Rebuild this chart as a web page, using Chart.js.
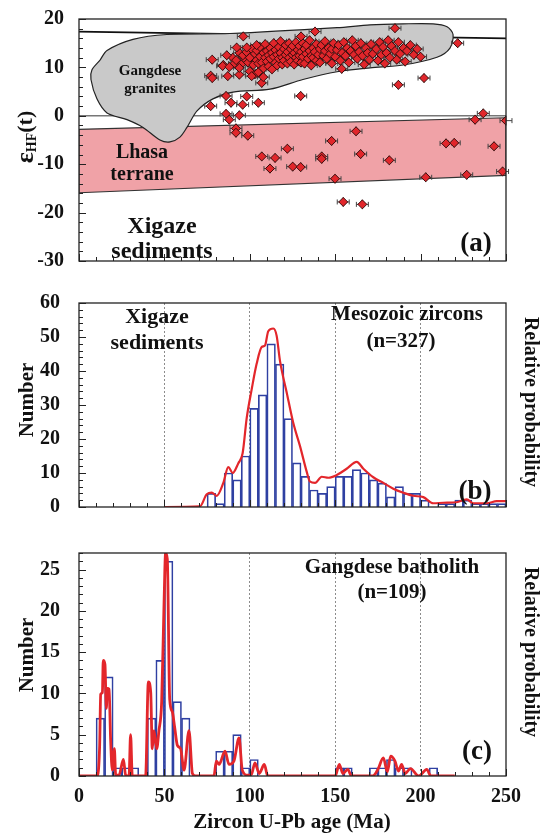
<!DOCTYPE html>
<html lang="en">
<head>
<meta charset="UTF-8">
<title>Zircon Hf isotopes and U-Pb ages</title>
<script src="https://cdn.jsdelivr.net/npm/chart.js@4.4.0/dist/chart.umd.min.js"></script>
<style>
  body { margin: 0; width: 548px; height: 834px; background: #fff; position: relative; overflow: hidden; }
  canvas { position: absolute; left: 0; }
</style>
</head>
<body>
<canvas id="chartA" width="548" height="280" style="top:0"></canvas>
<canvas id="chartB" width="548" height="250" style="top:280px"></canvas>
<canvas id="chartC" width="548" height="304" style="top:530px"></canvas>

<script>
// ---- panel (a): eHf(t) vs age ----
const gangdeseField = [[12.3,11.5],[7.6,9.5],[7.0,7.5],[10.5,3.5],[16.4,0.6],[28.1,-0.8],[37.5,-2.4],[47.4,-5.0],
  [53.3,-5.4],[59.1,-4.4],[63.2,-2.4],[69.1,1.0],[78.4,3.5],[90.2,4.9],[111.8,5.5],[131.1,7.5],[151.1,9.1],
  [170.4,9.9],[189.7,10.5],[209.6,12.1],[217.2,14.0],[219.0,16.8],[215.5,18.4],[207.3,19.0],[189.7,19.0],
  [170.4,18.8],[151.1,18.2],[88.4,17.0],[51.5,16.8],[31.6,15.8],[16.4,13.5],[12.3,11.5]];
const lhasaField = [[0,-2.8],[250,-0.4],[250,-12.3],[0,-15.9],[0,-2.8]];
const mantleLine = [[0,17.4],[250,16.0]];
const churLine = [[0,0],[250,0]];

const clusterPts = [
  [90,12.0],[91,10.8],[92,11.5],[94,13.0],[95,10.6],[97,11.8],[100,9.2],[103,8.6],[105,9.0],
  [96,12.5],[98,13.2],[99,11.0],[100,12.0],[101,13.8],[102,10.5],[103,12.8],[104,11.5],[104,13.5],[105,10.8],
  [106,12.2],[106,14.2],[107,11.0],[108,13.0],[108,9.8],[109,12.0],[109,14.8],[110,11.2],[110,13.4],[111,12.5],
  [111,10.2],[112,14.0],[112,11.8],[113,13.0],[113,9.6],[114,12.2],[114,15.0],[115,11.0],[115,13.6],[116,12.6],
  [116,10.4],[117,14.2],[117,11.8],[118,13.0],[118,15.4],[119,12.0],[119,10.6],[120,13.8],[120,11.4],[121,12.6],
  [121,14.6],[122,10.8],[122,13.2],[123,12.0],[123,15.0],[124,11.2],[124,13.8],[125,12.6],[125,14.4],[126,10.6],
  [126,13.0],[127,12.0],[127,15.2],[128,13.6],[128,11.4],[129,12.4],[129,14.4],[130,11.0],[130,13.2],[131,12.2],
  [131,15.0],[132,13.8],[132,10.8],[133,12.8],[133,14.6],[134,11.8],[135,13.4],[135,15.6],[136,12.4],[136,10.4],
  [137,14.0],[137,12.0],[138,13.2],[139,11.4],[139,14.8],[140,12.6],[141,13.8],[141,11.0],[142,14.6],[143,12.4],
  [144,13.4],[144,15.4],[145,11.8],[146,14.0],[147,12.8],[148,13.8],[148,10.8],[149,15.0],[150,12.2],[151,13.6],
  [152,14.6],[153,11.4],[154,13.0],[155,15.2],[156,12.4],[157,14.0],[158,11.0],[159,13.4],[160,15.6],[161,12.6],
  [162,14.4],[163,11.8],[164,13.2],[165,15.0],[166,12.4],[167,10.6],[168,14.0],[169,13.0],[170,11.6],[171,14.8],
  [172,12.8],[174,13.8],[175,11.4],[176,15.2],[177,12.6],[178,14.2],[179,10.8],[180,13.0],[181,15.6],[182,12.0],
  [183,14.4],[185,13.4],[186,11.6],[187,15.2],[188,12.8],[190,14.0],[191,11.2],[192,13.4],[194,14.6],[196,12.6],
  [198,13.8],[200,12.2]];
const outlierPts = [
  [78.0,11.6],[77.1,8.3],[78.0,7.8],[84.5,10.5],[86.5,12.5],[87.1,8.2],[92.3,14.1],[96.2,16.4],[93.9,8.5],
  [84.1,10.3],[88.0,10.1],[93.9,9.9],[77.1,2.0],[86.1,4.1],[89.0,2.7],[98.2,4.0],[95.8,2.3],[105.0,2.7],
  [86.1,0.4],[88.0,-0.8],[93.9,0.1],[91.9,-2.6],[91.9,-3.5],[98.8,-4.1],[107.0,6.8],[107.9,8.0],[101.1,8.2],
  [129.8,4.1],[107.0,-8.4],[114.8,-8.7],[111.8,-10.9],[122.0,-6.8],[125.1,-10.5],[129.8,-10.6],[142.1,-8.4],
  [142.1,-8.9],[147.9,-5.2],[162.2,-3.2],[164.9,-7.9],[149.9,-13.0],[181.7,-9.2],[154.7,-17.8],[165.9,-18.3],
  [203.0,-12.7],[214.9,-5.7],[219.7,-5.6],[227.0,-12.2],[231.9,-0.8],[236.7,0.5],[250.0,-1.0],[243.0,-6.3],
  [248.0,-11.5],[185.0,18.1],[221.7,15.0],[202.0,7.8],[187.0,6.4],[153.8,9.7],[138.2,17.4],[130.0,16.4],
  [98.2,14.1],[104.0,14.6]];
const ageErr = 3.5, epsErr = 1.0;

// ---- panel (b): Xigaze sediments, Mesozoic zircons ----
const binsB = [75,80,85,90,95,100,105,110,115,120,125,130,135,140,145,150,155,160,165,170,
  175,180,185,190,195,200,205,210,215,220,225,230,235,240,245];
const countsB = [4,1,10,8,15,29,33,48,42,26,13,9,5,4,6,9,9,11,10,8,7,3,6,4,4,2,0,1,1,2,2,1,1,1,1];
const kdeAgeB = [50,70.8,74.8,77.7,80.6,84.5,87.4,90,93.3,95.8,98.2,101.1,104,107,108.9,110.8,113.8,115.7,
  117.7,121.6,125.5,129.4,133.3,135.2,138.2,142.1,146,150.9,156.7,162.6,166.5,172.3,178.2,184,189.9,195.7,
  201.6,207.4,213.3,221.1,227,230.9,238.7,244.6,250];
const kdeValB = [0,0.2,3.75,4.2,3.3,7.1,11.7,10,12.9,15.8,26.2,34.6,42.1,47.1,47.5,51.7,52.5,50.4,
  42.9,33.7,24.6,17.9,10.4,7.5,7.1,8.9,8.6,9.4,11.25,13.3,11.25,8.75,7.1,5.4,4.2,3.3,
  2.9,1.1,1.25,1.4,2.25,1.1,1.1,1.7,1.7];

// ---- panel (c): Gangdese batholith ----
const binsC = [10,15,20,25,30,40,45,50,55,60,80,85,90,95,100,150,155,170,175,180,185,190,205];
const countsC = [7,12,1,1,1,7,14,26,9,7,3,3,5,1,2,1,1,1,1,2,1,1,1];
const kdeAgeC = [0,10.7,12.1,12.7,13.7,14.2,15.2,16.0,16.6,17.6,18.5,19.5,20.7,21.5,23.4,26,27.3,29.3,30.2,31.2,
  39,40.6,42,42.9,43.9,45.5,46.8,48.4,49.8,50.7,51.7,53.1,54.6,56,57.6,59.5,61.5,64.4,66.4,68.3,
  79,80.4,82,85.5,87.8,90.7,93.7,95.6,98.6,101,103,105.5,108.5,110.5,
  150,152.4,154.5,157.4,159.5,172,175,178.2,180.5,182.5,185,187,188.9,191,194,199,203.6,206,220];
const kdeValC = [0,0,3.7,9.9,10.1,14.0,13.5,8.2,10.6,10.5,4.5,0.7,3.3,0.1,0.1,2.0,0.1,0,5.0,0,
  0,11.4,10.1,3.3,5.5,3.3,5.5,9.0,21.0,27.0,26.3,9.3,7.8,5.9,3.7,3.3,0.7,5.5,0.3,0,
  0,1.8,1.4,3.0,1.4,1.8,4.6,0.7,0.1,0.2,1.6,0.3,1.4,0,
  0,1.4,0.3,0.8,0,0,0.8,2.2,0.5,2.4,1.8,0.6,1.4,0.3,0.9,0,0.8,0,0];

const dottedAges = [50, 100, 150, 200];
const FONT = "'Liberation Serif', 'DejaVu Serif', serif";

Chart.defaults.font.family = FONT;
Chart.defaults.font.weight = 'bold';
Chart.defaults.color = '#111';
Chart.defaults.animation = false;
Chart.defaults.plugins.legend.display = false;
Chart.defaults.plugins.tooltip.enabled = false;

const toXY = arr => arr.map(p => ({x: p[0], y: p[1]}));
const zip = (xs, ys) => xs.map((x, i) => ({x: x, y: ys[i]}));

// frame + inward ticks
const frameTicks = {
  id: 'frameTicks',
  afterDraw(chart, args, o) {
    const {ctx, chartArea: a, scales} = chart;
    ctx.save();
    ctx.strokeStyle = '#222';
    ctx.lineWidth = 1.3;
    ctx.strokeRect(a.left, a.top, a.right - a.left, a.bottom - a.top);
    ctx.lineWidth = 1;
    const run = (scale, step, len, horiz) => {
      for (let v = scale.min; v <= scale.max + 1e-6; v += step) {
        const p = Math.round(scale.getPixelForValue(v)) + 0.5;
        ctx.beginPath();
        if (horiz) { ctx.moveTo(p, a.bottom); ctx.lineTo(p, a.bottom - len); }
        else { ctx.moveTo(a.left, p); ctx.lineTo(a.left + len, p); }
        ctx.stroke();
      }
    };
    run(scales.x, o.xMinor, 4, true);
    run(scales.x, o.xMajor, 7, true);
    run(scales.y, o.yMinor, 4, false);
    run(scales.y, o.yMajor, 7, false);
    ctx.restore();
  }
};

// horizontal + vertical error bars under the markers
const errorBars = {
  id: 'errorBars',
  beforeDatasetDraw(chart, args) {
    const ds = chart.data.datasets[args.index];
    if (!ds.errX) return;
    const {ctx, scales: {x, y}} = chart;
    ctx.save();
    ctx.strokeStyle = '#444';
    ctx.lineWidth = 1;
    ds.data.forEach(p => {
      const px = x.getPixelForValue(p.x), py = y.getPixelForValue(p.y);
      const x0 = x.getPixelForValue(p.x - ds.errX), x1 = x.getPixelForValue(p.x + ds.errX);
      const y0 = y.getPixelForValue(p.y - ds.errY), y1 = y.getPixelForValue(p.y + ds.errY);
      ctx.beginPath();
      ctx.moveTo(x0, py); ctx.lineTo(x1, py);
      ctx.moveTo(x0, py - 2.5); ctx.lineTo(x0, py + 2.5);
      ctx.moveTo(x1, py - 2.5); ctx.lineTo(x1, py + 2.5);
      ctx.moveTo(px, y0); ctx.lineTo(px, y1);
      ctx.stroke();
    });
    ctx.restore();
  }
};

// free text labels
const labels = {
  id: 'labels',
  afterDraw(chart, args, o) {
    const ctx = chart.ctx;
    (o.items || []).forEach(it => {
      const parts = it.parts || [{t: it.text, size: it.size, dy: 0}];
      ctx.save();
      ctx.translate(it.x, it.y);
      if (it.rot) ctx.rotate(it.rot * Math.PI / 180);
      ctx.textBaseline = 'middle';
      ctx.textAlign = 'left';
      ctx.fillStyle = '#111';
      let total = 0;
      parts.forEach(p => { ctx.font = `bold ${p.size}px ${FONT}`; p.w = ctx.measureText(p.t).width; total += p.w; });
      let cx = -total / 2;
      parts.forEach(p => { ctx.font = `bold ${p.size}px ${FONT}`; ctx.fillText(p.t, cx, p.dy || 0); cx += p.w; });
      ctx.restore();
    });
  }
};

// ---------- chart (a) ----------
new Chart(document.getElementById('chartA'), {
  type: 'scatter',
  data: {
    datasets: [
      { data: toXY(clusterPts.concat(outlierPts)), pointStyle: 'rectRot', pointRadius: 4.5,
        backgroundColor: '#e1262b', borderColor: '#3b0d0d', borderWidth: 1, errX: ageErr, errY: epsErr, order: 0 },
      { type: 'line', data: toXY(gangdeseField), showLine: true, fill: 'shape', backgroundColor: '#c9c9c9',
        borderColor: '#222', borderWidth: 1.2, pointRadius: 0, tension: 0.3, order: 1 },
      { type: 'line', data: toXY(mantleLine), showLine: true, fill: false, borderColor: '#111',
        borderWidth: 1.8, pointRadius: 0, order: 2 },
      { type: 'line', data: toXY(churLine), showLine: true, fill: false, borderColor: '#777',
        borderWidth: 1.5, pointRadius: 0, order: 3 },
      { type: 'line', data: toXY(lhasaField), showLine: true, fill: 'shape', backgroundColor: '#f0a2a7',
        borderColor: '#333', borderWidth: 1.2, pointRadius: 0, order: 4 }
    ]
  },
  options: {
    responsive: false,
    layout: { padding: { top: 17, right: 42, left: 0, bottom: 0 } },
    scales: {
      x: { type: 'linear', min: 0, max: 250, ticks: { display: false }, grid: { display: false },
           border: { display: false }, afterFit: s => { s.height = 11; } },
      y: { min: -30, max: 20, ticks: { stepSize: 10, font: { size: 20 }, padding: 7 },
           grid: { display: false }, border: { display: false }, afterFit: s => { s.width = 79; } }
    },
    plugins: {
      frameTicks: { xMajor: 50, xMinor: 10, yMajor: 10, yMinor: 2 },
      labels: { items: [
        { parts: [{t: 'ε', size: 26, dy: 0}, {t: 'HF', size: 14, dy: 6}, {t: '(t)', size: 22, dy: 0}], x: 26, y: 137, rot: -90 },
        { text: 'Gangdese', size: 15, x: 150, y: 71 },
        { text: 'granites', size: 15, x: 150, y: 89 },
        { text: 'Lhasa', size: 20, x: 142, y: 153 },
        { text: 'terrane', size: 20, x: 142, y: 175 },
        { text: 'Xigaze', size: 24, x: 162, y: 227 },
        { text: 'sediments', size: 24, x: 162, y: 252 },
        { text: '(a)', size: 27, x: 476, y: 244 }
      ] }
    }
  },
  plugins: [errorBars, frameTicks, labels]
});

// ---------- histogram charts (b) and (c) ----------
function histChart(id, bins, counts, kdeAge, kdeVal, opt) {
  return new Chart(document.getElementById(id), {
    type: 'bar',
    data: {
      datasets: [
        { type: 'line', data: zip(kdeAge, kdeVal), borderColor: '#e3262b', borderWidth: opt.kdeWidth,
          pointRadius: 0, fill: false, cubicInterpolationMode: 'monotone', order: 0 },
        { data: zip(bins.map(b => b + 2.5), counts), backgroundColor: 'rgba(255,255,255,0)',
          borderColor: '#2f40a2', borderWidth: 1, barPercentage: 1, categoryPercentage: 1, order: 1 }
      ]
    },
    options: {
      responsive: false,
      layout: { padding: { top: opt.padTop, right: 42, left: 0, bottom: 0 } },
      scales: {
        x: { type: 'linear', min: 0, max: 250, offset: false,
             ticks: { display: opt.showX, stepSize: 50, font: { size: 20 }, padding: 9, maxRotation: 0, autoSkip: false },
             grid: { drawTicks: false, offset: false, lineWidth: 1,
                     color: c => dottedAges.includes(c.tick.value) ? '#8c8c8c' : 'rgba(0,0,0,0)' },
             border: { display: false, dash: [2, 2] },
             afterFit: s => { s.height = opt.xHeight; } },
        y: { min: 0, max: opt.yMax, ticks: { stepSize: opt.yStep, font: { size: 20 }, padding: 11, includeBounds: false },
             grid: { display: false }, border: { display: false }, afterFit: s => { s.width = 79; } }
      },
      plugins: {
        frameTicks: { xMajor: 50, xMinor: 10, yMajor: opt.yStep, yMinor: opt.yMinor },
        labels: { items: opt.texts }
      }
    },
    plugins: [frameTicks, labels]
  });
}

histChart('chartB', binsB, countsB, kdeAgeB, kdeValB, {
  padTop: 5, xHeight: 5, showX: false, yMax: 60, yStep: 10, yMinor: 2, kdeWidth: 2.2,
  texts: [
    { text: 'Number', size: 21, x: 28, y: 120, rot: -90 },
    { text: 'Relative probability', size: 20, x: 530, y: 122, rot: 90 },
    { text: 'Xigaze', size: 22, x: 157, y: 37 },
    { text: 'sediments', size: 22, x: 157, y: 63 },
    { text: 'Mesozoic zircons', size: 21, x: 407, y: 35 },
    { text: '(n=327)', size: 21, x: 401, y: 62 },
    { text: '(b)', size: 27, x: 475, y: 212 }
  ]
});

histChart('chartC', binsC, countsC, kdeAgeC, kdeValC, {
  padTop: 8, xHeight: 58, showX: true, yMax: 27, yStep: 5, yMinor: 1, kdeWidth: 2.8,
  texts: [
    { text: 'Number', size: 21, x: 28, y: 125, rot: -90 },
    { text: 'Relative probability', size: 20, x: 530, y: 122, rot: 90 },
    { text: 'Gangdese batholith', size: 21, x: 392, y: 38 },
    { text: '(n=109)', size: 21, x: 392, y: 63 },
    { text: '(c)', size: 27, x: 477, y: 222 },
    { text: 'Zircon U-Pb age (Ma)', size: 21, x: 292, y: 293 }
  ]
});
</script>
</body>
</html>
